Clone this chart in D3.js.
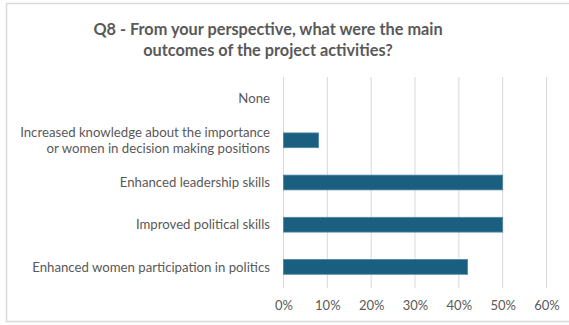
<!DOCTYPE html>
<html>
<head>
<meta charset="utf-8">
<script src="https://cdn.jsdelivr.net/npm/d3@7/dist/d3.min.js"></script>
<style>
  html, body { margin: 0; padding: 0; background: #fff; }
  svg { display: block; }
</style>
</head>
<body>
<svg id="chart" width="569" height="325"></svg>
<script>
// Survey outcomes (share of respondents)
const categories = [
  "None",
  "Increased knowledge about the importance|or women in decision making positions",
  "Enhanced leadership skills",
  "Improved political skills",
  "Enhanced women participation in politics"
];
const values = [0, 0.08, 0.50, 0.50, 0.42];
const tickValues = [0, 0.1, 0.2, 0.3, 0.4, 0.5, 0.6];
const titleLines = [
  "Q8 - From your perspective, what were the main",
  "outcomes of the project activities?"
];

const svg = d3.select("#chart");
const font = "Lato, 'Open Sans', sans-serif";
const textColor = "#595959";

// outer chart frame
svg.append("rect")
  .attr("x", 6.5).attr("y", 3.5)
  .attr("width", 570).attr("height", 318)
  .attr("fill", "#fff")
  .attr("stroke", "#d9d9d9")
  .attr("stroke-width", 1.5);

// title
svg.append("g").selectAll("text")
  .data(titleLines)
  .join("text")
  .attr("x", 268)
  .attr("y", (d, i) => 34.5 + i * 21)
  .attr("text-anchor", "middle")
  .attr("font-family", font)
  .attr("font-weight", "bold")
  .attr("font-size", 16.3)
  .attr("fill", textColor)
  .text(d => d);

const plot = { left: 283.5, right: 546.5, top: 77, bottom: 288 };

const x = d3.scaleLinear().domain([0, 0.6]).range([plot.left, plot.right]);
const y = d3.scaleBand().domain(categories).range([plot.top, plot.bottom]).paddingInner(0.65).paddingOuter(0.325);

// vertical gridlines
svg.append("g").selectAll("line")
  .data(tickValues)
  .join("line")
  .attr("x1", d => x(d)).attr("x2", d => x(d))
  .attr("y1", plot.top).attr("y2", plot.bottom)
  .attr("stroke", "#d9d9d9")
  .attr("stroke-width", 1);

// bars
svg.append("g").selectAll("rect")
  .data(categories.map((c, i) => ({ c, v: values[i] })))
  .join("rect")
  .attr("x", x(0))
  .attr("y", d => y(d.c))
  .attr("width", d => x(d.v) - x(0))
  .attr("height", y.bandwidth())
  .attr("fill", "#1a5f80")
  .attr("stroke", "#4d86a3")
  .attr("stroke-width", d => d.v > 0 ? 0.8 : 0);

// x axis labels
const xAxis = d3.axisBottom(x)
  .tickValues(tickValues)
  .tickFormat(d3.format(".0%"))
  .tickSize(0)
  .tickPadding(0);
const gx = svg.append("g")
  .attr("transform", `translate(0, ${plot.bottom + 21.5})`)
  .call(xAxis);
gx.select(".domain").remove();
gx.selectAll("text")
  .attr("font-family", font)
  .attr("font-size", 13)
  .attr("fill", textColor)
  .attr("dy", 0);

// category labels (right aligned, multi-line where split by "|")
const gy = svg.append("g");
categories.forEach(c => {
  const lines = c.split("|");
  const cy = y(c) + y.bandwidth() / 2;
  const lh = 16.5;
  const t = gy.append("text")
    .attr("text-anchor", "end")
    .attr("font-family", font)
    .attr("font-size", 13.2)
    .attr("fill", textColor);
  lines.forEach((ln, i) => {
    t.append("tspan")
      .attr("x", 270)
      .attr("y", cy + (i - (lines.length - 1) / 2) * lh + 4.6)
      .text(ln);
  });
});
</script>
</body>
</html>
